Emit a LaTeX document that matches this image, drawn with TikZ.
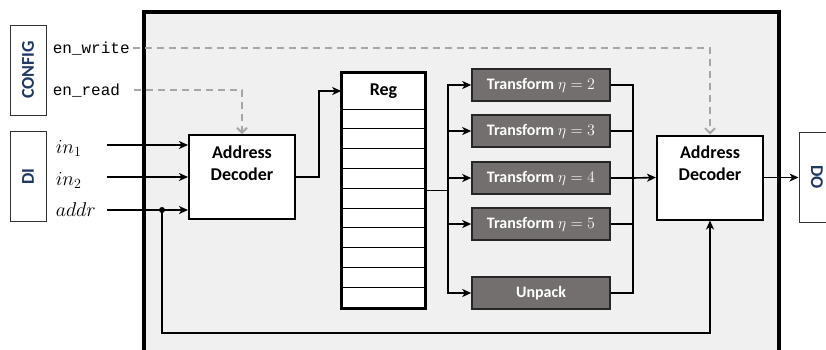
\RequirePackage{fix-cm}
\documentclass[tikz,border=0pt]{standalone}
\usepackage{fontspec}
\setmainfont{Carlito}
\setmonofont{Liberation Mono}
\usetikzlibrary{arrows.meta}

\definecolor{navy}{RGB}{32,56,100}
\definecolor{boxgray}{RGB}{115,111,110}
\definecolor{panel}{RGB}{240,240,240}

\begin{document}
\begin{tikzpicture}[x=1pt, y=-1pt, line width=1.6pt,
	>={Stealth[length=9pt,width=8pt,inset=2.5pt]},
	port/.style={draw=black!80, line width=1pt, fill=white, minimum width=90pt, minimum height=36pt,
		inner sep=0pt, text=navy, font=\bfseries\fontsize{18}{18}\selectfont},
	decoder/.style={draw, line width=2pt, fill=white, minimum width=106pt, minimum height=84pt,
		label={[anchor=north, align=center, inner sep=0pt, yshift=-11pt,
			font=\bfseries\fontsize{18}{22}\selectfont]north:Address\\Decoder}},
	tbox/.style={draw=black!85, line width=1.5pt, fill=boxgray, text=white, minimum width=138pt,
		minimum height=32pt, inner sep=0pt, font=\bfseries\fontsize{16}{16}\selectfont},
	ctrl/.style={gray!70, line width=1.8pt, dash pattern=on 7pt off 5pt,
		-{Straight Barb[length=5pt,width=10pt]}},
	pin/.style={anchor=base west, inner sep=0pt, font=\fontsize{20}{20}\selectfont},
	flag/.style={anchor=base west, inner sep=0pt, font=\ttfamily\fontsize{16}{16}\selectfont}]
	\useasboundingbox (0,0) rectangle (826,349);
	\clip (0,0) rectangle (826,349);

	% module frame
	\fill[panel] (144,12) rectangle (779,360);
	\draw[line width=4pt] (144,360) -- (144,12) -- (779,12) -- (779,360);

	% interface boxes
	\node[port, rotate=90] (config) at (28,70) {CONFIG};
	\node[port, rotate=90] (di) at (28,176.5) {DI};
	\node[port, rotate=-90] (do) at (817,177) {DO};

	\node[flag] (enw) at (52,53) {en\_write};
	\node[flag] (enr) at (52,95) {en\_read};
	\node[pin] (in1) at (55,153) {$in_1$};
	\node[pin] (in2) at (55,185) {$in_2$};
	\node[pin] (addr) at (55,216) {$addr$};

	\coordinate (cw) at (133,48);
	\coordinate (cr) at (134,90);
	\coordinate (s1) at (107,145);
	\coordinate (s2) at (107,177);
	\coordinate (s3) at (107,210);
	\coordinate (tap) at (162,210);
	\coordinate (fb) at (162,333);

	\node[decoder] (dec1) at (242,177) {};
	\node[decoder] (dec2) at (710,177.5) {};

	% register file
	\node[draw, line width=1.8pt, fill=white, minimum width=83pt, minimum height=235pt] (reg) at (383.5,190.5) {};
	\node[minimum width=83pt, minimum height=36pt, font=\bfseries\fontsize{18}{18}\selectfont] (regh) at (383.5,91) {Reg};
	\foreach \r in {0,...,9}
		\draw[line width=0.9pt] (342,{109+19.8*\r}) -- (425,{109+19.8*\r});
	\draw[line width=1.8pt] (reg.north west) rectangle (reg.south east);

	% transform units
	\node[tbox] (t2) at (541,85) {Transform $\eta = 2$};
	\node[tbox] (t3) at (541,131) {Transform $\eta = 3$};
	\node[tbox] (t4) at (541,178) {Transform $\eta = 4$};
	\node[tbox] (t5) at (541,224) {Transform $\eta = 5$};
	\node[tbox] (up) at (541,293) {Unpack};

	\coordinate (busl) at (448,190.5);
	\coordinate (busr) at (633,178);

	% control lines
	\draw[ctrl] (cw) -| (dec2.north);
	\draw[ctrl] (cr) -| (dec1.north);

	% data path
	\draw[->] (s1) -- (s1 -| dec1.west);
	\draw[->] (s2) -- (s2 -| dec1.west);
	\draw[->] (s3) -- (s3 -| dec1.west);
	\fill (tap) circle (3pt);
	\draw[->] (tap) -- (fb) -| (dec2.south);
	\draw[->] (dec1.east) -- ++(23,0) |- (regh.west);
	\draw (reg.east) -- (busl);
	\foreach \t in {t2,t3,t4,t5,up} {
		\draw[->] (busl) |- (\t.west);
		\draw (\t.east) -| (busr);
	}
	\draw[->] (busr) -- (dec2.west);
	\draw[->] (dec2.east) -- (dec2.east -| do.south);
\end{tikzpicture}
\end{document}
